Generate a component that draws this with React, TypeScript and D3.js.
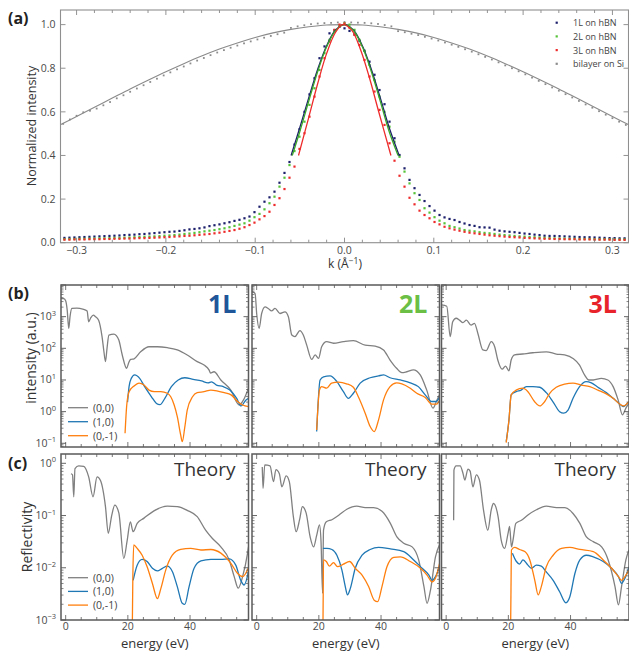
import React from 'react';
import * as d3 from 'd3';

// ---------- Panel (a) data ----------
const K_STEP = 0.0056; // dot spacing (Å^-1), index 56 = k 0
const DOTS_1L = [0.022,0.023,0.024,0.025,0.026,0.027,0.028,0.029,0.030,0.031,0.032,0.033,0.035,0.036,0.037,0.039,0.040,0.042,0.044,0.046,0.048,0.050,0.051,0.054,0.057,0.061,0.063,0.066,0.070,0.076,0.080,0.084,0.089,0.094,0.100,0.105,0.112,0.120,0.140,0.165,0.188,0.208,0.234,0.275,0.32,0.37,0.45,0.52,0.60,0.68,0.754,0.846,0.90,0.96,0.975,0.99,0.983,0.971,0.955,0.925,0.88,0.83,0.77,0.70,0.635,0.555,0.479,0.402,0.341,0.288,0.25,0.219,0.191,0.168,0.147,0.127,0.116,0.109,0.104,0.095,0.088,0.081,0.077,0.071,0.070,0.069,0.060,0.055,0.052,0.050,0.048,0.045,0.042,0.040,0.037,0.035,0.032,0.031,0.031,0.030,0.029,0.028,0.027,0.026,0.025,0.025,0.024,0.023,0.022,0.021,0.021,0.020,0.020];
const DOTS_2L = [0.016,0.017,0.017,0.018,0.018,0.019,0.019,0.020,0.020,0.021,0.022,0.022,0.023,0.024,0.025,0.026,0.027,0.028,0.029,0.030,0.032,0.033,0.035,0.037,0.040,0.042,0.045,0.048,0.052,0.055,0.058,0.062,0.066,0.071,0.077,0.083,0.089,0.101,0.117,0.132,0.153,0.181,0.211,0.257,0.298,0.356,0.42,0.486,0.555,0.632,0.708,0.792,0.869,0.93,0.971,0.994,1.006,1.0,0.976,0.93,0.879,0.815,0.746,0.67,0.60,0.532,0.463,0.394,0.326,0.272,0.227,0.196,0.158,0.138,0.117,0.101,0.089,0.077,0.071,0.065,0.058,0.055,0.052,0.048,0.045,0.043,0.040,0.037,0.035,0.033,0.031,0.029,0.028,0.026,0.025,0.024,0.022,0.021,0.020,0.019,0.019,0.018,0.018,0.017,0.017,0.017,0.016,0.016,0.016,0.016,0.015,0.015,0.015];
const DOTS_3L = [0.014,0.014,0.015,0.015,0.015,0.016,0.016,0.016,0.017,0.017,0.018,0.018,0.019,0.019,0.020,0.021,0.021,0.022,0.023,0.024,0.025,0.026,0.028,0.029,0.031,0.032,0.034,0.036,0.038,0.040,0.043,0.046,0.050,0.054,0.058,0.064,0.071,0.081,0.092,0.107,0.122,0.142,0.173,0.204,0.246,0.298,0.349,0.43,0.502,0.578,0.67,0.762,0.846,0.922,0.976,1.0,1.005,0.986,0.953,0.907,0.838,0.762,0.693,0.609,0.54,0.456,0.376,0.307,0.257,0.206,0.176,0.147,0.127,0.112,0.095,0.084,0.073,0.066,0.060,0.055,0.050,0.046,0.043,0.040,0.037,0.034,0.032,0.030,0.028,0.026,0.025,0.024,0.022,0.021,0.020,0.019,0.018,0.018,0.017,0.017,0.016,0.016,0.016,0.015,0.015,0.015,0.014,0.014,0.014,0.014,0.013,0.013,0.013];
const SI_STEP = 0.0075; // index 42 = k 0
const DOTS_SI = [0.545,0.565,0.582,0.598,0.605,0.615,0.630,0.645,0.662,0.676,0.692,0.707,0.722,0.737,0.752,0.767,0.781,0.795,0.808,0.822,0.835,0.847,0.860,0.872,0.883,0.894,0.904,0.914,0.923,0.932,0.940,0.948,0.956,0.963,0.985,0.992,0.997,1.002,1.005,1.007,1.008,1.010,1.012,1.010,1.009,1.008,1.006,1.003,0.998,0.992,0.970,0.965,0.958,0.952,0.944,0.936,0.927,0.918,0.908,0.898,0.887,0.876,0.864,0.852,0.840,0.827,0.813,0.800,0.786,0.772,0.757,0.742,0.727,0.712,0.697,0.681,0.666,0.650,0.634,0.619,0.603,0.587,0.571,0.555,0.540];
const FIT_SI: [number, number][] = [[-0.32,0.537],[-0.30,0.579],[-0.28,0.621],[-0.26,0.663],[-0.24,0.705],[-0.22,0.745],[-0.20,0.784],[-0.18,0.821],[-0.16,0.856],[-0.14,0.888],[-0.12,0.916],[-0.10,0.941],[-0.08,0.962],[-0.06,0.978],[-0.04,0.990],[-0.02,0.998],[0,1.0],[0.02,0.998],[0.04,0.990],[0.06,0.978],[0.08,0.962],[0.10,0.941],[0.12,0.916],[0.14,0.888],[0.16,0.856],[0.18,0.821],[0.20,0.784],[0.22,0.745],[0.24,0.705],[0.26,0.663],[0.28,0.621],[0.30,0.579],[0.32,0.537]];
const FIT_1L: [number, number][] = [[-0.0598,0.40],[-0.05,0.528],[-0.04,0.665],[-0.03,0.795],[-0.02,0.903],[-0.01,0.975],[0,1.0],[0.01,0.975],[0.02,0.903],[0.03,0.795],[0.04,0.665],[0.05,0.528],[0.0612,0.40]];
const FIT_2L: [number, number][] = [[-0.0585,0.40],[-0.05,0.51],[-0.04,0.65],[-0.03,0.785],[-0.02,0.898],[-0.01,0.973],[0,1.0],[0.01,0.973],[0.02,0.898],[0.03,0.785],[0.04,0.65],[0.05,0.51],[0.0600,0.40]];
const FIT_3L: [number, number][] = [[-0.0515,0.40],[-0.04,0.575],[-0.03,0.73],[-0.02,0.868],[-0.01,0.965],[-0.002,1.0],[0.008,0.975],[0.018,0.885],[0.028,0.755],[0.038,0.605],[0.052,0.40]];
const A_XTICKS = [-0.3,-0.2,-0.1,0,0.1,0.2,0.3];
const A_XTICK_LABELS = ['\u22120.3','\u22120.2','\u22120.1','0.0','0.1','0.2','0.3'];
const A_YTICKS = [0,0.2,0.4,0.6,0.8,1.0];
const A_LEGEND = ['1L on hBN','2L on hBN','3L on hBN','bilayer on Si'];

// ---------- Panels (b), (c): [energy eV, log10 value] ----------
const B1_00: [number, number][] = [[-1.5,3.58],[-0.6,3.57],[0.0,3.5],[0.5,3.2],[1.0,2.63],[1.4,3.0],[2.0,3.26],[3.6,3.27],[5.5,3.24],[6.9,3.18],[7.4,2.84],[8.0,2.95],[8.9,3.05],[9.6,3.0],[10.6,2.89],[11.7,2.37],[12.3,1.9],[12.8,1.58],[13.3,2.0],[13.9,2.42],[15.5,2.45],[16.3,2.4],[17.1,2.26],[18.2,1.79],[19.6,1.37],[20.3,1.55],[20.9,1.65],[22,1.67],[24.1,1.89],[26.8,2.05],[29.5,2.05],[32.7,2.02],[35.9,1.95],[39.1,1.79],[42.3,1.58],[44.5,1.47],[46.1,1.32],[46.6,1.22],[47.7,1.26],[49.9,1.0],[53.1,0.68],[55.8,0.21],[57.2,0.37],[58.8,0.75]];
const B1_10: [number, number][] = [[19.9,0.3],[20.4,0.8],[21.1,1.05],[22.2,1.16],[23.8,1.05],[25.4,0.79],[27.6,0.47],[29.2,0.26],[30.3,0.22],[31.9,0.42],[34,0.79],[36.2,1.0],[38.3,1.07],[41,1.02],[43.7,0.97],[45.8,0.91],[46.9,0.94],[48.5,0.84],[50.7,0.79],[52.8,0.68],[55,0.42],[56.4,0.18],[58,0.37],[58.8,0.42]];
const B1_01: [number, number][] = [[19.1,-0.68],[19.6,0.16],[20.4,0.63],[22,0.81],[23.6,0.9],[25.2,0.84],[26.8,0.68],[28.5,0.63],[30.6,0.63],[32.7,0.58],[33.8,0.47],[34.9,0.21],[35.9,-0.16],[37,-0.74],[37.5,-0.95],[38.3,-0.5],[39.1,0.05],[40.8,0.47],[42.3,0.6],[44.5,0.63],[46.7,0.68],[48.9,0.65],[51,0.6],[53.2,0.53],[55.3,0.32],[56.9,0.21],[58.8,0.16]];
const B2_00: [number, number][] = [[-1.5,3.79],[-0.5,3.73],[0,3.1],[0.8,2.63],[1.6,3.1],[2.7,3.31],[3.7,3.26],[4.8,3.18],[5.9,3.26],[7.5,3.1],[9.1,3.15],[10.2,3.0],[11.3,2.42],[12.3,2.37],[13.9,2.56],[15,2.42],[16.1,2.1],[17.7,1.65],[18.8,1.79],[19.9,1.68],[20.9,2.05],[22.5,2.21],[24.7,2.16],[27.9,2.21],[31.1,2.24],[34.9,2.1],[38.1,2.07],[40.8,1.95],[42.9,1.63],[45,1.37],[46.7,1.23],[48.3,1.26],[50.4,1.32],[52.6,1.16],[54.7,0.68],[56.7,0.11],[58,0.37],[58.8,0.53]];
const B2_10: [number, number][] = [[19.3,-0.63],[20.4,1.0],[21.5,1.1],[23.6,1.13],[25.8,0.95],[27.9,0.63],[29.5,0.42],[31.1,0.58],[33.3,0.9],[36.5,1.07],[39.2,1.13],[40.8,1.16],[42.9,1.07],[46.2,1.0],[49.4,0.91],[52,0.79],[54.2,0.53],[56.3,0.32],[57.7,0.32],[58.8,0.45]];
const B2_01: [number, number][] = [[19.3,-0.58],[20.2,0.68],[20.9,0.79],[22.5,0.74],[24.1,0.9],[26.3,0.93],[28.9,0.88],[31.1,0.77],[32.7,0.47],[34.9,-0.05],[36.5,-0.47],[37.8,-0.63],[39.2,-0.26],[40.8,0.37],[42.9,0.79],[45,0.91],[46.7,0.88],[49.4,0.74],[51.5,0.58],[54.2,0.45],[56.3,0.24],[57.9,0.24],[58.8,0.35]];
const B3_00: [number, number][] = [[-1.5,3.37],[0.2,3.33],[1.3,2.37],[2.1,2.84],[3.2,2.95],[4.3,2.89],[5.4,2.81],[6.5,2.89],[8,2.73],[9.1,2.79],[10.2,2.47],[11.8,1.95],[12.9,1.93],[14.5,2.21],[15.6,2.05],[16.6,1.63],[18,1.34],[19.1,1.44],[20.2,1.29],[20.9,1.63],[22,1.79],[24.6,1.82],[27.9,1.86],[32.2,1.89],[35.4,1.82],[38.1,1.79],[40.8,1.68],[42.9,1.47],[44.5,1.16],[45.9,1.0],[47.3,1.0],[49.9,1.05],[52,1.0],[53.7,0.79],[55.3,0.37],[56.7,-0.1],[57.8,0.11],[58.8,0.26]];
const B3_10: [number, number][] = [[19.3,-0.95],[20.2,-0.26],[20.9,0.53],[22.5,0.63],[24.1,0.68],[25.8,0.79],[27.9,0.79],[30.1,0.77],[32.2,0.6],[34.3,0.32],[36.5,0.0],[37.8,-0.05],[39.2,0.05],[40.8,0.42],[42.9,0.79],[45,0.95],[46.7,0.91],[48.8,0.77],[51.5,0.6],[53.7,0.42],[55.6,0.26],[56.9,0.16],[58.5,0.28]];
const B3_01: [number, number][] = [[19.3,-0.98],[20.2,-0.26],[20.9,0.53],[22.5,0.68],[24.6,0.74],[26.3,0.63],[28.4,0.32],[30.1,0.18],[31.7,0.32],[33.3,0.58],[35.4,0.77],[38.1,0.87],[40.8,0.9],[43.4,0.84],[46.2,0.79],[48.8,0.68],[51.5,0.56],[53.7,0.42],[55.8,0.24],[57.1,0.18],[58.8,0.32]];
const C1_00: [number, number][] = [[1.7,-0.2],[2.2,-0.22],[2.6,-0.64],[3.0,-0.1],[4.2,-0.05],[5.8,-0.06],[7.4,-0.26],[8.8,-0.64],[10.1,-0.26],[11.2,-0.33],[12.8,-0.83],[13.7,-1.34],[14.8,-1.0],[15.8,-0.8],[17.1,-0.95],[18.7,-1.82],[19.8,-1.47],[20.8,-1.12],[21.7,-1.31],[23,-1.15],[25.2,-1.05],[28.4,-0.91],[32.7,-0.82],[35.9,-0.83],[39.1,-0.9],[42.3,-1.02],[45,-1.28],[47.2,-1.44],[49.9,-1.6],[52.6,-1.85],[54.2,-2.17],[55.5,-2.39],[56.9,-2.17],[58.5,-1.72],[58.8,-1.6]];
const C1_10: [number, number][] = [[21.7,-2.24],[23,-1.95],[24.6,-1.84],[26.2,-1.88],[27.9,-2.01],[29.5,-2.06],[31.1,-2.01],[32.7,-1.97],[34.3,-2.07],[35.9,-2.36],[37.5,-2.68],[38.3,-2.7],[39.7,-2.36],[41.3,-2.01],[43.5,-1.87],[46.7,-1.84],[49.9,-1.84],[52.6,-1.83],[54.7,-1.95],[56.3,-2.24],[57.4,-2.33],[58.8,-2.07]];
const C1_01: [number, number][] = [[21.4,-3.3],[21.6,-2.2],[21.9,-1.56],[23,-1.63],[24.6,-1.76],[26.2,-1.98],[27.9,-2.3],[29.5,-2.59],[30.6,-2.4],[32.2,-2.04],[34.3,-1.76],[37,-1.65],[40.2,-1.63],[43.5,-1.66],[46.7,-1.65],[49.9,-1.72],[53.2,-1.92],[55.3,-2.11],[56.9,-2.17],[58.8,-2.0]];
const C2_00: [number, number][] = [[1.8,-0.07],[2.05,-0.48],[2.6,-0.03],[4.3,-0.05],[5.4,-0.35],[6.2,-0.12],[7.3,-0.2],[8.1,-0.45],[9.5,-0.24],[10.5,-0.35],[11.8,-1.02],[12.7,-1.31],[13.8,-1.08],[14.7,-0.83],[15.9,-0.95],[17.2,-1.41],[18.3,-1.6],[19.3,-1.38],[20.2,-1.18],[20.7,-1.5],[21.2,-2.49],[21.5,-1.28],[22.4,-1.12],[24.2,-1.08],[26.3,-1.0],[29,-0.88],[32.2,-0.82],[34.9,-0.85],[37.6,-0.85],[40.3,-0.92],[43,-1.15],[45.1,-1.41],[47.3,-1.53],[50,-1.6],[52.1,-1.85],[53.8,-2.36],[54.8,-2.68],[55.9,-2.43],[57.5,-1.79],[58.8,-1.56]];
const C2_10: [number, number][] = [[21.3,-1.63],[22.6,-1.63],[24.2,-1.65],[25.8,-1.76],[27.4,-2.04],[28.5,-2.36],[29.2,-2.52],[30.1,-2.4],[31.7,-2.01],[33.9,-1.76],[36.5,-1.65],[39.2,-1.61],[43,-1.64],[47.3,-1.69],[50.5,-1.85],[53.2,-2.01],[55.4,-2.14],[56.4,-2.24],[57.5,-2.17],[58.8,-1.98]];
const C2_01: [number, number][] = [[21.3,-3.3],[21.4,-2.5],[21.5,-1.85],[22.4,-1.88],[23.4,-1.97],[24.7,-1.9],[26,-1.98],[27.9,-1.93],[29.9,-1.88],[31.7,-2.01],[33.9,-2.14],[36,-2.36],[37.8,-2.62],[38.9,-2.65],[40.3,-2.36],[41.9,-1.98],[44.1,-1.8],[46.2,-1.79],[49.4,-1.88],[52.7,-2.01],[54.8,-2.14],[56.4,-2.27],[57.5,-2.2],[58.8,-1.92]];
const C3_00: [number, number][] = [[2.4,-1.09],[2.5,-0.13],[3.2,-0.05],[4.5,-0.05],[5.4,-0.19],[6.0,-0.32],[7.0,-0.11],[7.7,-0.15],[8.6,-0.45],[9.7,-0.22],[10.7,-0.32],[12,-0.89],[13.4,-1.28],[14.5,-0.89],[15.2,-0.77],[16.7,-1.02],[17.7,-1.47],[18.8,-1.63],[19.9,-1.34],[20.4,-1.21],[21,-1.6],[21.5,-1.47],[22.4,-1.15],[24.2,-1.09],[26.3,-0.99],[29,-0.89],[32.2,-0.82],[35.5,-0.85],[38.2,-0.85],[40.8,-0.96],[43,-1.15],[45.1,-1.41],[47.3,-1.5],[50,-1.6],[52.1,-1.85],[54.3,-2.36],[55.4,-2.71],[56.4,-2.36],[57.8,-1.85],[58.8,-1.66]];
const C3_10: [number, number][] = [[21.3,-1.72],[22.6,-1.88],[23.6,-1.93],[24.7,-1.85],[26.3,-1.95],[27.4,-2.01],[29,-1.95],[30.6,-1.97],[32.2,-2.08],[34.4,-2.24],[36.5,-2.46],[38.5,-2.67],[39.8,-2.55],[41.4,-2.11],[43,-1.85],[45.1,-1.76],[47.3,-1.79],[50.5,-1.88],[53.2,-2.01],[55.4,-2.17],[56.4,-2.3],[57.5,-2.2],[58.8,-1.98]];
const C3_01: [number, number][] = [[20.7,-3.3],[20.85,-2.4],[21,-1.66],[22,-1.61],[23.6,-1.65],[25.3,-1.69],[26.9,-1.85],[28.5,-2.24],[29.6,-2.52],[30.6,-2.36],[32.2,-1.98],[34.4,-1.76],[37.1,-1.63],[39.8,-1.61],[43,-1.65],[47.3,-1.69],[50.5,-1.85],[53.2,-2.01],[55.4,-2.17],[56.4,-2.24],[57.5,-2.17],[58.8,-2.04]];

const B_SERIES = [[B1_00,B1_10,B1_01],[B2_00,B2_10,B2_01],[B3_00,B3_10,B3_01]];
const C_SERIES = [[C1_00,C1_10,C1_01],[C2_00,C2_10,C2_01],[C3_00,C3_10,C3_01]];
const SERIES_NAMES = ['(0,0)','(1,0)','(0,-1)'];
const LAYER_LABELS = ['1L','2L','3L'];
const E_TICKS = [0,20,40];
const B_EXPONENTS = [-1,0,1,2,3];
const C_EXPONENTS = [-3,-2,-1,0];

const FONT = '"Open Sans", "DejaVu Sans", sans-serif';
const DOT_COLORS = ['#1c1f6b','#55c238','#ee2b2b','#8c8c8c'];
const LINE_COLORS = ['#808080','#1f77b4','#ff7f0e'];
const LAYER_COLORS = ['#1f5699','#6cbf45','#e8232a'];
const TICK_COL = '#4a4a4a';

const PANEL_X = [61, 252, 441.5];
const PW = 187.5;
const E_DOMAIN: [number, number] = [-1.5, 58.8];
const B_TOP = 285, B_BOT = 447, C_TOP = 454, C_BOT = 620;

function sup(e: number) { return e < 0 ? '\u2212' + Math.abs(e) : String(e); }

function LogPanel({ idx, top, bot, domain, exps, series, isC }: any) {
  const x0 = PANEL_X[idx];
  const ex = d3.scaleLinear().domain(E_DOMAIN).range([x0, x0 + PW]);
  const ly = d3.scaleLog().domain(domain).range([bot, top]);
  const line = d3.line<[number, number]>().x(d => ex(d[0])).y(d => ly(Math.pow(10, d[1]))).curve(d3.curveMonotoneX);
  const clipId = `clip-${isC ? 'c' : 'b'}-${idx}`;
  const lo = Math.floor(Math.log10(domain[0])), hi = Math.ceil(Math.log10(domain[1]));
  const minor: number[] = [];
  const major: number[] = [];
  for (let n = lo; n <= hi; n++) {
    const base = Math.pow(10, n);
    if (base >= domain[0] && base <= domain[1]) major.push(base);
    for (let m = 2; m <= 9; m++) {
      const v = m * base;
      if (v >= domain[0] && v <= domain[1]) minor.push(v);
    }
  }
  const eMinor = d3.range(0, 59, 5);
  const x1 = x0 + PW;
  return (
    <g>
      <defs><clipPath id={clipId}><rect x={x0} y={top} width={PW} height={bot - top} /></clipPath></defs>
      <g clipPath={`url(#${clipId})`}>
        {series.map((s: [number, number][], i: number) => (
          <path key={i} d={line(s) || ''} fill="none" stroke={LINE_COLORS[i]} strokeWidth={1.3} />
        ))}
      </g>
      {major.map((v, i) => (
        <g key={'M' + i} stroke="#555" strokeWidth={0.9}>
          <line x1={x0} x2={x0 + 5} y1={ly(v)} y2={ly(v)} />
          <line x1={x1} x2={x1 - 5} y1={ly(v)} y2={ly(v)} />
        </g>
      ))}
      {minor.map((v, i) => (
        <g key={'m' + i} stroke="#555" strokeWidth={0.7}>
          <line x1={x0} x2={x0 + 2.5} y1={ly(v)} y2={ly(v)} />
          <line x1={x1} x2={x1 - 2.5} y1={ly(v)} y2={ly(v)} />
        </g>
      ))}
      {eMinor.map((e, i) => {
        const len = e % 20 === 0 ? 5 : 3;
        return (
          <g key={'e' + i} stroke="#555" strokeWidth={0.8}>
            <line x1={ex(e)} x2={ex(e)} y1={top} y2={top + len} />
            <line x1={ex(e)} x2={ex(e)} y1={bot} y2={bot - len} />
          </g>
        );
      })}
      <rect x={x0} y={top} width={PW} height={bot - top} fill="none" stroke="#5a5a5a" strokeWidth={1.5} />
      {idx === 0 && exps.map((n: number) => (
        <text key={n} x={56} y={ly(Math.pow(10, n)) + 3.5} textAnchor="end" fontSize={10.5} fill={TICK_COL} fontFamily={FONT}>
          10<tspan dy={-4.5} fontSize={7.5}>{sup(n)}</tspan>
        </text>
      ))}
      {isC && E_TICKS.map(e => (
        <text key={e} x={ex(e)} y={629.5} textAnchor="middle" fontSize={10.5} fill={TICK_COL} fontFamily={FONT}>{e}</text>
      ))}
      {isC && (
        <text x={x0 + PW / 2} y={648} textAnchor="middle" fontSize={13} fill="#333" fontFamily={FONT}>energy (eV)</text>
      )}
      {isC ? (
        <text x={x1 - 13} y={476} textAnchor="end" fontSize={19} fill="#333" fontFamily={FONT}>Theory</text>
      ) : (
        <text x={x1 - 12} y={313} textAnchor="end" fontSize={25} fontWeight="bold" fill={LAYER_COLORS[idx]} fontFamily={FONT}>{LAYER_LABELS[idx]}</text>
      )}
      {idx === 0 && SERIES_NAMES.map((nm, i) => {
        const yy = (isC ? 577.7 : 407.7) + i * (isC ? 13.7 : 14);
        return (
          <g key={nm}>
            <line x1={68} x2={88} y1={yy} y2={yy} stroke={LINE_COLORS[i]} strokeWidth={1.3} />
            <text x={93} y={yy + 3.8} fontSize={10.5} fill="#444" fontFamily={FONT}>{nm}</text>
          </g>
        );
      })}
    </g>
  );
}

export default function App() {
  const ax = d3.scaleLinear().domain([-0.318, 0.318]).range([60.5, 628.5]);
  const ay = d3.scaleLinear().domain([0, 1.067]).range([242.7, 10]);
  const fitLine = d3.line<[number, number]>().x(d => ax(d[0])).y(d => ay(d[1])).curve(d3.curveCatmullRom);
  const dotSets = [DOTS_1L, DOTS_2L, DOTS_3L];
  const aMinor = d3.range(-15, 16).map(i => i * 0.02);
  const bDomain: [number, number] = [Math.pow(10, -1.117), 1e4];
  const cDomain: [number, number] = [1e-3, Math.pow(10, 0.178)];
  return (
    <svg width={629} height={652} style={{ display: 'block', position: 'absolute', left: 0, top: 0 }} fontFamily={FONT}>
      <rect x={0} y={0} width={629} height={652} fill="#fff" />
      {/* Panel (a) */}
      <defs><clipPath id="clip-a"><rect x={60.5} y={10} width={568} height={232.7} /></clipPath></defs>
      <g clipPath="url(#clip-a)">
        <path d={fitLine(FIT_SI) || ''} fill="none" stroke="#8a8a8a" strokeWidth={1.1} />
        {DOTS_SI.map((v, i) => (
          <rect key={'si' + i} x={ax((i - 42) * SI_STEP) - 0.9} y={ay(v) - 0.9} width={1.8} height={1.8} fill={DOT_COLORS[3]} />
        ))}
        {dotSets.map((arr, s) => arr.map((v, i) => (
          <rect key={s + '-' + i} x={ax((i - 56) * K_STEP) - 1.1} y={ay(v) - 1.1} width={2.2} height={2.2} fill={DOT_COLORS[s]} />
        )))}
        <path d={fitLine(FIT_1L) || ''} fill="none" stroke={DOT_COLORS[0]} strokeWidth={1.3} />
        <path d={fitLine(FIT_2L) || ''} fill="none" stroke="#3aa52a" strokeWidth={1.3} />
        <path d={fitLine(FIT_3L) || ''} fill="none" stroke={DOT_COLORS[2]} strokeWidth={1.3} />
      </g>
      {aMinor.map((k, i) => {
        const isMajor = Math.abs(Math.round(k * 10) - k * 10) < 1e-6;
        const len = isMajor ? 5 : 3;
        return (
          <g key={'at' + i} stroke="#777" strokeWidth={0.8}>
            <line x1={ax(k)} x2={ax(k)} y1={242.7} y2={242.7 - len} />
            <line x1={ax(k)} x2={ax(k)} y1={10} y2={10 + len} />
          </g>
        );
      })}
      {A_YTICKS.map((v, i) => (
        <g key={'ay' + i} stroke="#777" strokeWidth={0.8}>
          <line x1={60.5} x2={65.5} y1={ay(v)} y2={ay(v)} />
          <line x1={628.5} x2={623.5} y1={ay(v)} y2={ay(v)} />
        </g>
      ))}
      <rect x={60.5} y={10} width={568} height={232.7} fill="none" stroke="#8f8f8f" strokeWidth={1.1} />
      {A_XTICKS.map((k, i) => (
        <text key={'axl' + i} x={ax(k)} y={253.5} textAnchor="middle" fontSize={10.5} fill={TICK_COL}>{A_XTICK_LABELS[i]}</text>
      ))}
      {A_YTICKS.map((v, i) => (
        <text key={'ayl' + i} x={55.5} y={ay(v) + 3.7} textAnchor="end" fontSize={10.5} fill={TICK_COL}>{v.toFixed(1)}</text>
      ))}
      <text x={345} y={268} textAnchor="middle" fontSize={12} fill="#333">k (Å<tspan dy={-4.5} fontSize={8.5}>{'\u22121'}</tspan><tspan dy={4.5}>)</tspan></text>
      <text transform="translate(36,126) rotate(-90)" textAnchor="middle" fontSize={12.5} fill="#333">Normalized intensity</text>
      {A_LEGEND.map((t, i) => (
        <g key={t}>
          <rect x={555.6} y={22.7 + i * 13.7 - 1.1} width={2.2} height={2.2} fill={DOT_COLORS[i]} />
          <text x={573} y={22.7 + i * 13.7 + 3.4} fontSize={9} fill="#444">{t}</text>
        </g>
      ))}
      <text x={8} y={24} fontSize={16} fontWeight="bold" fill="#222">(a)</text>

      {/* Panel (b) */}
      {[0, 1, 2].map(i => (
        <LogPanel key={'b' + i} idx={i} top={B_TOP} bot={B_BOT} domain={bDomain} exps={B_EXPONENTS} series={B_SERIES[i]} isC={false} />
      ))}
      <text transform="translate(36,358) rotate(-90)" textAnchor="middle" fontSize={14} fill="#333">intensity (a.u.)</text>
      <text x={8} y={299} fontSize={16} fontWeight="bold" fill="#222">(b)</text>

      {/* Panel (c) */}
      {[0, 1, 2].map(i => (
        <LogPanel key={'c' + i} idx={i} top={C_TOP} bot={C_BOT} domain={cDomain} exps={C_EXPONENTS} series={C_SERIES[i]} isC={true} />
      ))}
      <text transform="translate(32,537) rotate(-90)" textAnchor="middle" fontSize={14} fill="#333">Reflectivity</text>
      <text x={8} y={469} fontSize={16} fontWeight="bold" fill="#222">(c)</text>
    </svg>
  );
}
